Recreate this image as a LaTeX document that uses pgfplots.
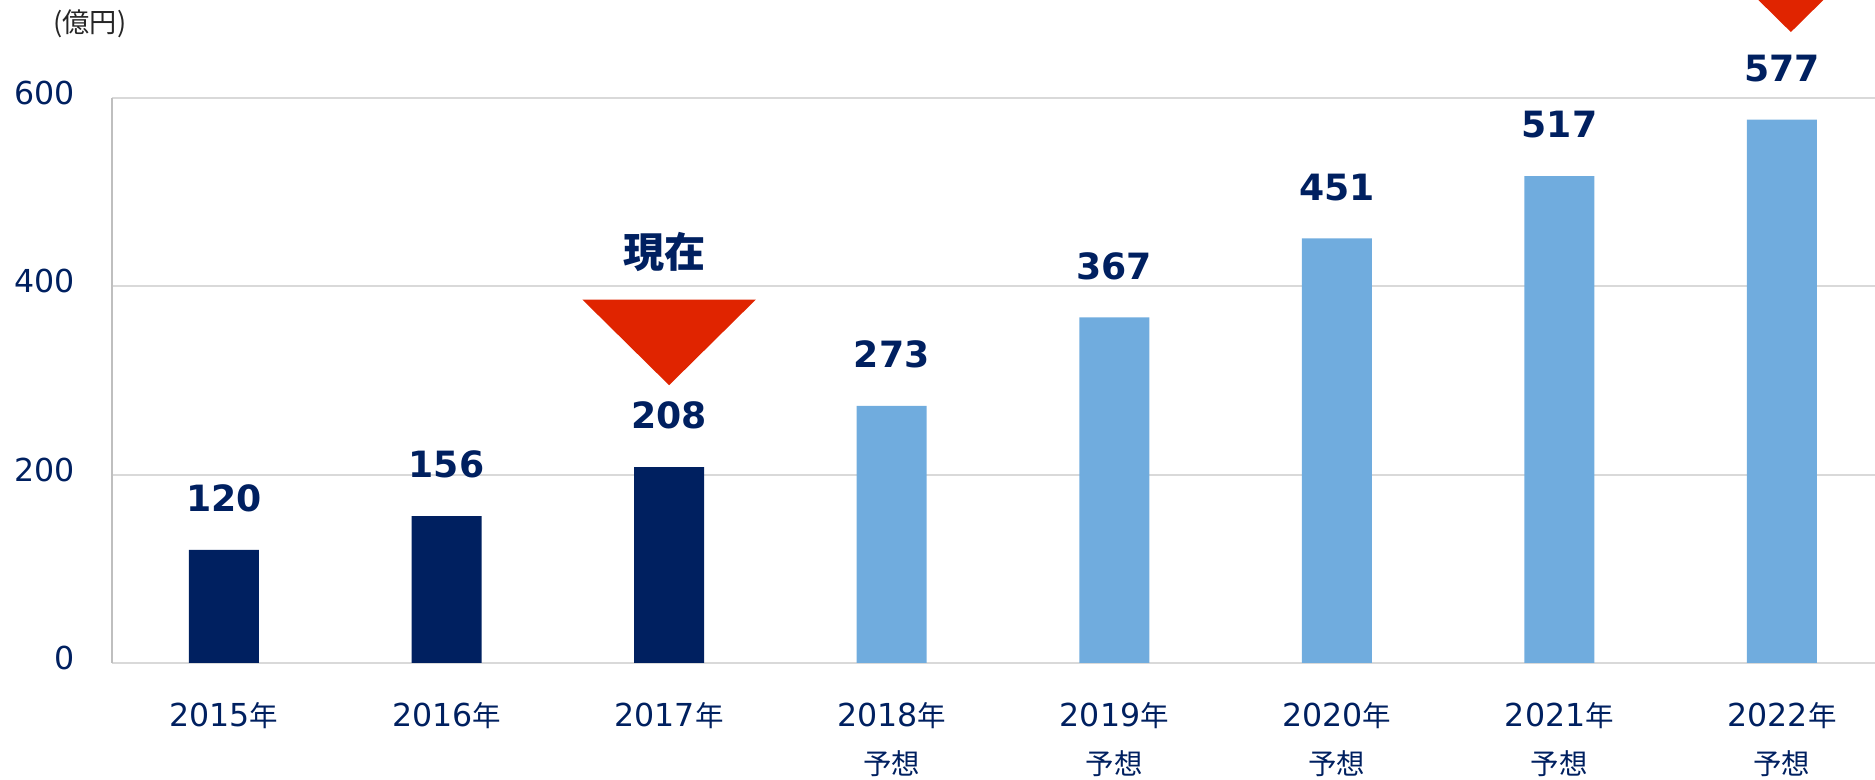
\documentclass[border=0pt]{standalone}
\usepackage{fontspec}
\setmainfont{DejaVu Sans}
\newfontfamily\cjk{Noto Sans CJK JP}[Scale=0.9]
\newfontfamily\cjkb{Noto Sans CJK JP}
\usepackage{pgfplots}
\pgfplotsset{compat=1.18}
\definecolor{navy}{HTML}{002060}
\definecolor{lblue}{HTML}{70ACDE}
\definecolor{tri}{HTML}{E02400}
\definecolor{gridc}{HTML}{D9D9D9}
\definecolor{axl}{HTML}{BFBFBF}
\begin{document}
\begin{tikzpicture}
\begin{axis}[
  scale only axis, width=17.63cm, height=5.65cm,
  xmin=-0.503, xmax=7.418, ymin=0, ymax=600,
  axis x line*=bottom, axis y line*=left,
  x axis line style={draw=gridc, line width=0.02cm, -},
  y axis line style={draw=axl, line width=0.02cm, -},
  ymajorgrids, grid style={draw=gridc, line width=0.02cm},
  major tick length=0pt,
  ytick={0,200,400,600},
  xtick={0,...,7},
  xticklabels={2015{\cjk 年}, 2016{\cjk 年}, 2017{\cjk 年}, {2018{\cjk 年}\\{\cjk 予想}}, {2019{\cjk 年}\\{\cjk 予想}}, {2020{\cjk 年}\\{\cjk 予想}}, {2021{\cjk 年}\\{\cjk 予想}}, {2022{\cjk 年}\\{\cjk 予想}}},
  tick label style={font=\fontsize{9}{13.6}\selectfont, text=navy},
  /pgf/number format/assume math mode=true,
  yticklabel style={xshift=-0.25cm, yshift=0.05cm},
  xticklabel style={align=center, anchor=north, yshift=-0.27cm},
  bar width=0.7cm,
  clip=false,
]
\addplot[ybar, bar shift=0pt, fill=navy, draw=none, nodes near coords,
  every node near coord/.append style={font=\fontsize{10.3}{12}\selectfont\bfseries, text=navy, inner sep=0pt, anchor=south, yshift=0.37cm}]
  coordinates {(0,120) (1,156) (2,208)};
\addplot[ybar, bar shift=0pt, fill=lblue, draw=none, nodes near coords,
  every node near coord/.append style={font=\fontsize{10.3}{12}\selectfont\bfseries, text=navy, inner sep=0pt, anchor=south, yshift=0.37cm}]
  coordinates {(3,273) (4,367) (5,451) (6,517) (7,577)};
\addplot[fill=tri, draw=none] coordinates {(1.61,386) (2.39,386) (2,295)} -- cycle;
\addplot[fill=tri, draw=none] coordinates {(6.65,761) (7.43,761) (7.04,670)} -- cycle;
\node[font=\cjkb\bfseries\fontsize{11.7}{13}\selectfont, text=navy] at (axis cs:1.98,436) {現在};
\end{axis}
\node[font=\cjk\fontsize{8.6}{11}\selectfont, text=black!85] at (-0.22cm,6.39cm) {(億円)};
\pgfresetboundingbox
\path[use as bounding box] (-1.12cm,-1.17cm) rectangle (17.63cm,6.63cm);
\end{tikzpicture}
\end{document}
